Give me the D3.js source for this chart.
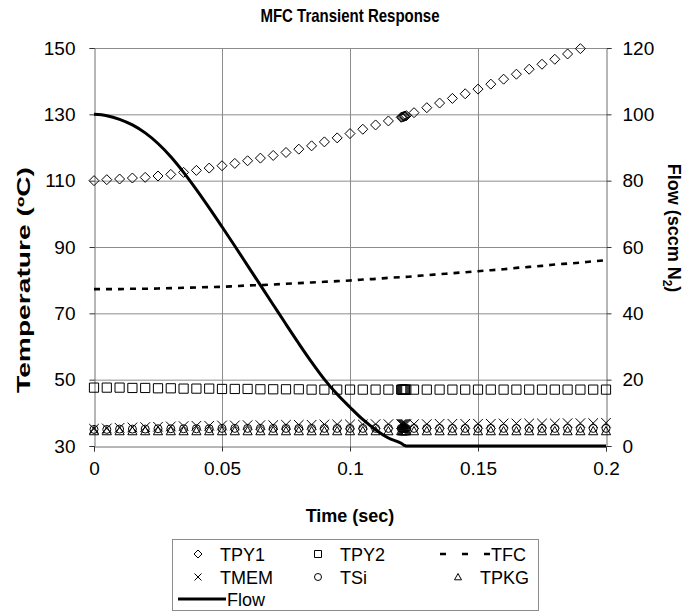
<!DOCTYPE html>
<html lang="en">
  <head>
    <meta charset="UTF-8" />
    <title>MFC Transient Response</title>
    <script src="https://d3js.org/d3.v7.min.js"></script>
    <style>
      body { margin: 0; background: #fff; }
      #chart svg { display: block; font-family: "Liberation Sans", Arial, sans-serif; }
      .tick text { font-size: 19px; fill: #000; }
    </style>
  </head>
  <body>
    <div id="chart"></div>

    <script>
      // Time steps (sec) - dense cluster where the flow shuts off
      const times = [
        0, 0.005, 0.01, 0.015, 0.02, 0.025, 0.03, 0.035, 0.04, 0.045,
        0.05, 0.055, 0.06, 0.065, 0.07, 0.075, 0.08, 0.085, 0.09, 0.095,
        0.1, 0.105, 0.11, 0.115, 0.12, 0.1204, 0.1208, 0.1212, 0.1216, 0.122,
        0.125, 0.13, 0.135, 0.14, 0.145, 0.15, 0.155, 0.16, 0.165, 0.17,
        0.175, 0.18, 0.185, 0.19, 0.195, 0.2
      ];

      const tpy1 = [
        110.0, 110.3, 110.5, 110.8, 111.0, 111.4, 111.9, 112.5, 113.1, 113.8,
        114.5, 115.2, 116.0, 116.8, 117.6, 118.5, 119.5, 120.5, 121.7, 122.9,
        124.2, 125.5, 126.8, 128.0, 129.1, 129.2, 129.3, 129.4, 129.5, 129.6,
        130.5, 132.0, 133.4, 134.8, 136.2, 137.6, 139.1, 140.6, 142.1, 143.6,
        145.1, 146.6, 148.2, 149.8, 151.4, 153.0
      ];

      const tpy2 = [
        47.6, 47.6, 47.6, 47.5, 47.5, 47.4, 47.4, 47.3, 47.3, 47.3,
        47.2, 47.2, 47.2, 47.1, 47.1, 47.1, 47.1, 47.0, 47.0, 47.0,
        47.0, 47.0, 47.0, 47.0, 47.0, 47.0, 47.0, 47.0, 47.0, 47.0,
        47.0, 47.0, 47.0, 47.0, 47.0, 47.0, 47.0, 47.0, 47.0, 47.0,
        47.0, 47.0, 47.0, 47.0, 47.0, 47.0
      ];

      const tfc = [
        77.3, 77.3, 77.3, 77.4, 77.4, 77.5, 77.6, 77.7, 77.8, 77.9,
        78.0, 78.2, 78.4, 78.5, 78.7, 78.9, 79.1, 79.3, 79.5, 79.7,
        79.9, 80.2, 80.4, 80.7, 80.9, 80.9, 81.0, 81.0, 81.0, 81.0,
        81.2, 81.5, 81.8, 82.1, 82.4, 82.7, 83.0, 83.3, 83.7, 84.0,
        84.3, 84.7, 85.0, 85.3, 85.7, 86.0
      ];

      const tmem = [
        35.2, 35.3, 35.5, 35.6, 35.7, 35.8, 35.9, 36.0, 36.1, 36.1,
        36.2, 36.2, 36.3, 36.3, 36.3, 36.4, 36.4, 36.4, 36.5, 36.5,
        36.5, 36.5, 36.6, 36.6, 36.6, 36.6, 36.6, 36.6, 36.6, 36.6,
        36.6, 36.6, 36.7, 36.7, 36.7, 36.7, 36.7, 36.8, 36.8, 36.8,
        36.8, 36.8, 36.9, 36.9, 36.9, 37.0
      ];

      const tsi = [
        35.0, 35.0, 35.1, 35.1, 35.1, 35.2, 35.2, 35.2, 35.2, 35.2,
        35.3, 35.3, 35.3, 35.3, 35.3, 35.3, 35.3, 35.3, 35.3, 35.3,
        35.3, 35.3, 35.3, 35.3, 35.3, 35.3, 35.3, 35.3, 35.3, 35.3,
        35.3, 35.3, 35.3, 35.3, 35.3, 35.3, 35.3, 35.3, 35.3, 35.3,
        35.3, 35.3, 35.3, 35.3, 35.3, 35.3
      ];

      const tpkg = [
        34.5, 34.5, 34.5, 34.5, 34.5, 34.5, 34.5, 34.5, 34.5, 34.5,
        34.5, 34.5, 34.5, 34.5, 34.5, 34.5, 34.5, 34.5, 34.5, 34.5,
        34.5, 34.5, 34.5, 34.5, 34.5, 34.5, 34.5, 34.5, 34.5, 34.5,
        34.5, 34.5, 34.5, 34.5, 34.5, 34.5, 34.5, 34.5, 34.5, 34.5,
        34.5, 34.5, 34.5, 34.5, 34.5, 34.5
      ];

      // Flow (sccm N2), right axis
      const flow = [
        100.0, 99.6, 98.5, 96.8, 94.4, 91.2, 87.2, 82.5, 77.3, 71.8,
        66.1, 60.3, 54.4, 48.5, 42.6, 36.7, 30.9, 25.3, 20.1, 15.6,
        11.7, 8.0, 4.9, 2.4, 0.8, 0.6, 0.4, 0.2, 0.1, 0.0,
        0, 0, 0, 0, 0, 0, 0, 0, 0, 0,
        0, 0, 0, 0, 0, 0
      ];

      const timeTicks = [0, 0.05, 0.1, 0.15, 0.2];
      const timeLabels = ["0", "0.05", "0.1", "0.15", "0.2"];
      const tempTicks = [30, 50, 70, 90, 110, 130, 150];
      const flowTicks = [0, 20, 40, 60, 80, 100, 120];

      const width = 700, height = 614;
      const plotLeft = 94, plotRight = 606, plotTop = 48, plotBottom = 446;

      const svg = d3.select("#chart").append("svg")
        .attr("width", width)
        .attr("height", height);

      const x = d3.scaleLinear().domain([0, 0.2]).range([plotLeft, plotRight]);
      const yT = d3.scaleLinear().domain([30, 150]).range([plotBottom, plotTop]);
      const yF = d3.scaleLinear().domain([0, 120]).range([plotBottom, plotTop]);

      // marker shapes, Excel style
      function marker(type, r) {
        switch (type) {
          case "diamond": return `M0,${-r}L${r},0L0,${r}L${-r},0Z`;
          case "square": return `M${-r},${-r}H${r}V${r}H${-r}Z`;
          case "cross": return `M${-r},${-r}L${r},${r}M${r},${-r}L${-r},${r}`;
          case "triangle": return `M0,${-r}L${r},${r * 0.8}L${-r},${r * 0.8}Z`;
          case "circle": return `M${r},0A${r},${r} 0 1,1 ${-r},0A${r},${r} 0 1,1 ${r},0Z`;
        }
      }

      // gridlines
      const grid = svg.append("g").attr("stroke", "#8c8c8c").attr("stroke-width", 1);
      grid.selectAll("line.h")
        .data(tempTicks.filter(d => d > 30 && d < 150))
        .join("line")
        .attr("class", "h")
        .attr("x1", plotLeft).attr("x2", plotRight)
        .attr("y1", d => yT(d) + 0.5).attr("y2", d => yT(d) + 0.5);
      grid.selectAll("line.v")
        .data(timeTicks.filter(d => d > 0 && d < 0.2))
        .join("line")
        .attr("class", "v")
        .attr("y1", plotTop).attr("y2", plotBottom)
        .attr("x1", d => x(d) + 0.5).attr("x2", d => x(d) + 0.5);

      // top border
      svg.append("line")
        .attr("x1", plotLeft).attr("x2", plotRight)
        .attr("y1", plotTop + 0.5).attr("y2", plotTop + 0.5)
        .attr("stroke", "#8c8c8c");

      // axes
      const axL = svg.append("g")
        .attr("transform", `translate(${plotLeft + 0.5},0)`)
        .call(d3.axisLeft(yT).tickValues(tempTicks).tickSize(5).tickPadding(14));
      const axR = svg.append("g")
        .attr("transform", `translate(${plotRight + 0.5},0)`)
        .call(d3.axisRight(yF).tickValues(flowTicks).tickSize(5).tickPadding(11));
      const axB = svg.append("g")
        .attr("transform", `translate(0,${plotBottom + 0.5})`)
        .call(d3.axisBottom(x).tickValues(timeTicks).tickSize(5).tickPadding(10)
          .tickFormat((d, i) => timeLabels[i]));
      [axL, axR, axB].forEach(g => {
        g.selectAll("path.domain").attr("stroke", "#6e6e6e");
        g.selectAll(".tick line").attr("stroke", "#333");
        g.selectAll(".tick text").style("font-family", "'Liberation Sans', Arial, sans-serif");
      });

      // series
      const series = [
        { name: "TPY1", values: tpy1, shape: "diamond", r: 5 },
        { name: "TPY2", values: tpy2, shape: "square", r: 4.6 },
        { name: "TMEM", values: tmem, shape: "cross", r: 4.8 },
        { name: "TSi", values: tsi, shape: "circle", r: 4 },
        { name: "TPKG", values: tpkg, shape: "triangle", r: 4.6 }
      ];

      const tfcLine = d3.line()
        .x((d, i) => x(times[i]))
        .y(d => yT(d))
        .curve(d3.curveMonotoneX);
      svg.append("path")
        .datum(tfc)
        .attr("d", tfcLine)
        .attr("fill", "none")
        .attr("stroke", "#000")
        .attr("stroke-width", 2.6)
        .attr("stroke-dasharray", "6,6");

      series.forEach(s => {
        const pts = s.values
          .map((v, i) => ({ t: times[i], v }))
          .filter(d => d.v <= 150);
        svg.append("g").selectAll("path")
          .data(pts)
          .join("path")
          .attr("transform", d => `translate(${x(d.t)},${yT(d.v)})`)
          .attr("d", marker(s.shape, s.r))
          .attr("fill", "none")
          .attr("stroke", "#000")
          .attr("stroke-width", 1);
      });

      const flowLine = d3.line()
        .x((d, i) => x(times[i]))
        .y(d => yF(d))
        .curve(d3.curveMonotoneX);
      svg.append("path")
        .datum(flow)
        .attr("d", flowLine)
        .attr("fill", "none")
        .attr("stroke", "#000")
        .attr("stroke-width", 3);

      // titles (the source picture is a bit stretched vertically)
      svg.append("text")
        .attr("transform", "translate(350,22) scale(1,1.25)")
        .attr("text-anchor", "middle")
        .style("font-size", "15px").style("font-weight", "bold")
        .text("MFC Transient Response");

      svg.append("text")
        .attr("x", 350).attr("y", 522)
        .attr("text-anchor", "middle")
        .style("font-size", "18px").style("font-weight", "bold")
        .text("Time (sec)");

      svg.append("text")
        .attr("transform", "translate(30,280) rotate(-90)")
        .attr("text-anchor", "middle")
        .attr("textLength", 226)
        .attr("lengthAdjust", "spacingAndGlyphs")
        .style("font-size", "18px").style("font-weight", "bold")
        .text("Temperature (ºC)");

      const fTitle = svg.append("text")
        .attr("transform", "translate(668,228) rotate(90)")
        .attr("text-anchor", "middle")
        .style("font-size", "18px").style("font-weight", "bold");
      fTitle.append("tspan").text("Flow (sccm N");
      fTitle.append("tspan").attr("dy", 5).style("font-size", "12px").text("2");
      fTitle.append("tspan").attr("dy", -5).text(")");

      // legend
      const legend = svg.append("g");
      legend.append("rect")
        .attr("x", 172.5).attr("y", 539.5)
        .attr("width", 366).attr("height", 71)
        .attr("fill", "#fff")
        .attr("stroke", "#8c8c8c");

      const legendItems = [
        { name: "TPY1", shape: "diamond", col: 0, row: 0 },
        { name: "TPY2", shape: "square", col: 1, row: 0 },
        { name: "TFC", shape: "dash", col: 2, row: 0 },
        { name: "TMEM", shape: "cross", col: 0, row: 1 },
        { name: "TSi", shape: "circle", col: 1, row: 1 },
        { name: "TPKG", shape: "triangle", col: 2, row: 1 },
        { name: "Flow", shape: "line", col: 0, row: 2 }
      ];
      const colX = [198, 318, 458];
      const rowY = [554, 577, 599];

      legendItems.forEach(it => {
        const cx = colX[it.col], cy = rowY[it.row];
        let tx = cx + 22;
        if (it.shape === "dash") {
          legend.append("line")
            .attr("x1", 440).attr("x2", 490)
            .attr("y1", cy).attr("y2", cy)
            .attr("stroke", "#000").attr("stroke-width", 2.6)
            .attr("stroke-dasharray", "6,16");
          tx = 491;
        } else if (it.shape === "line") {
          legend.append("line")
            .attr("x1", 178).attr("x2", 226)
            .attr("y1", cy).attr("y2", cy)
            .attr("stroke", "#000").attr("stroke-width", 3);
          tx = 227;
        } else {
          legend.append("path")
            .attr("transform", `translate(${cx},${cy})`)
            .attr("d", marker(it.shape, it.shape === "diamond" ? 4 : 3.5))
            .attr("fill", "none")
            .attr("stroke", "#000")
            .attr("stroke-width", 1);
        }
        legend.append("text")
          .attr("x", tx).attr("y", cy + 6.5)
          .style("font-size", "18px")
          .text(it.name);
      });
    </script>
  </body>
</html>
